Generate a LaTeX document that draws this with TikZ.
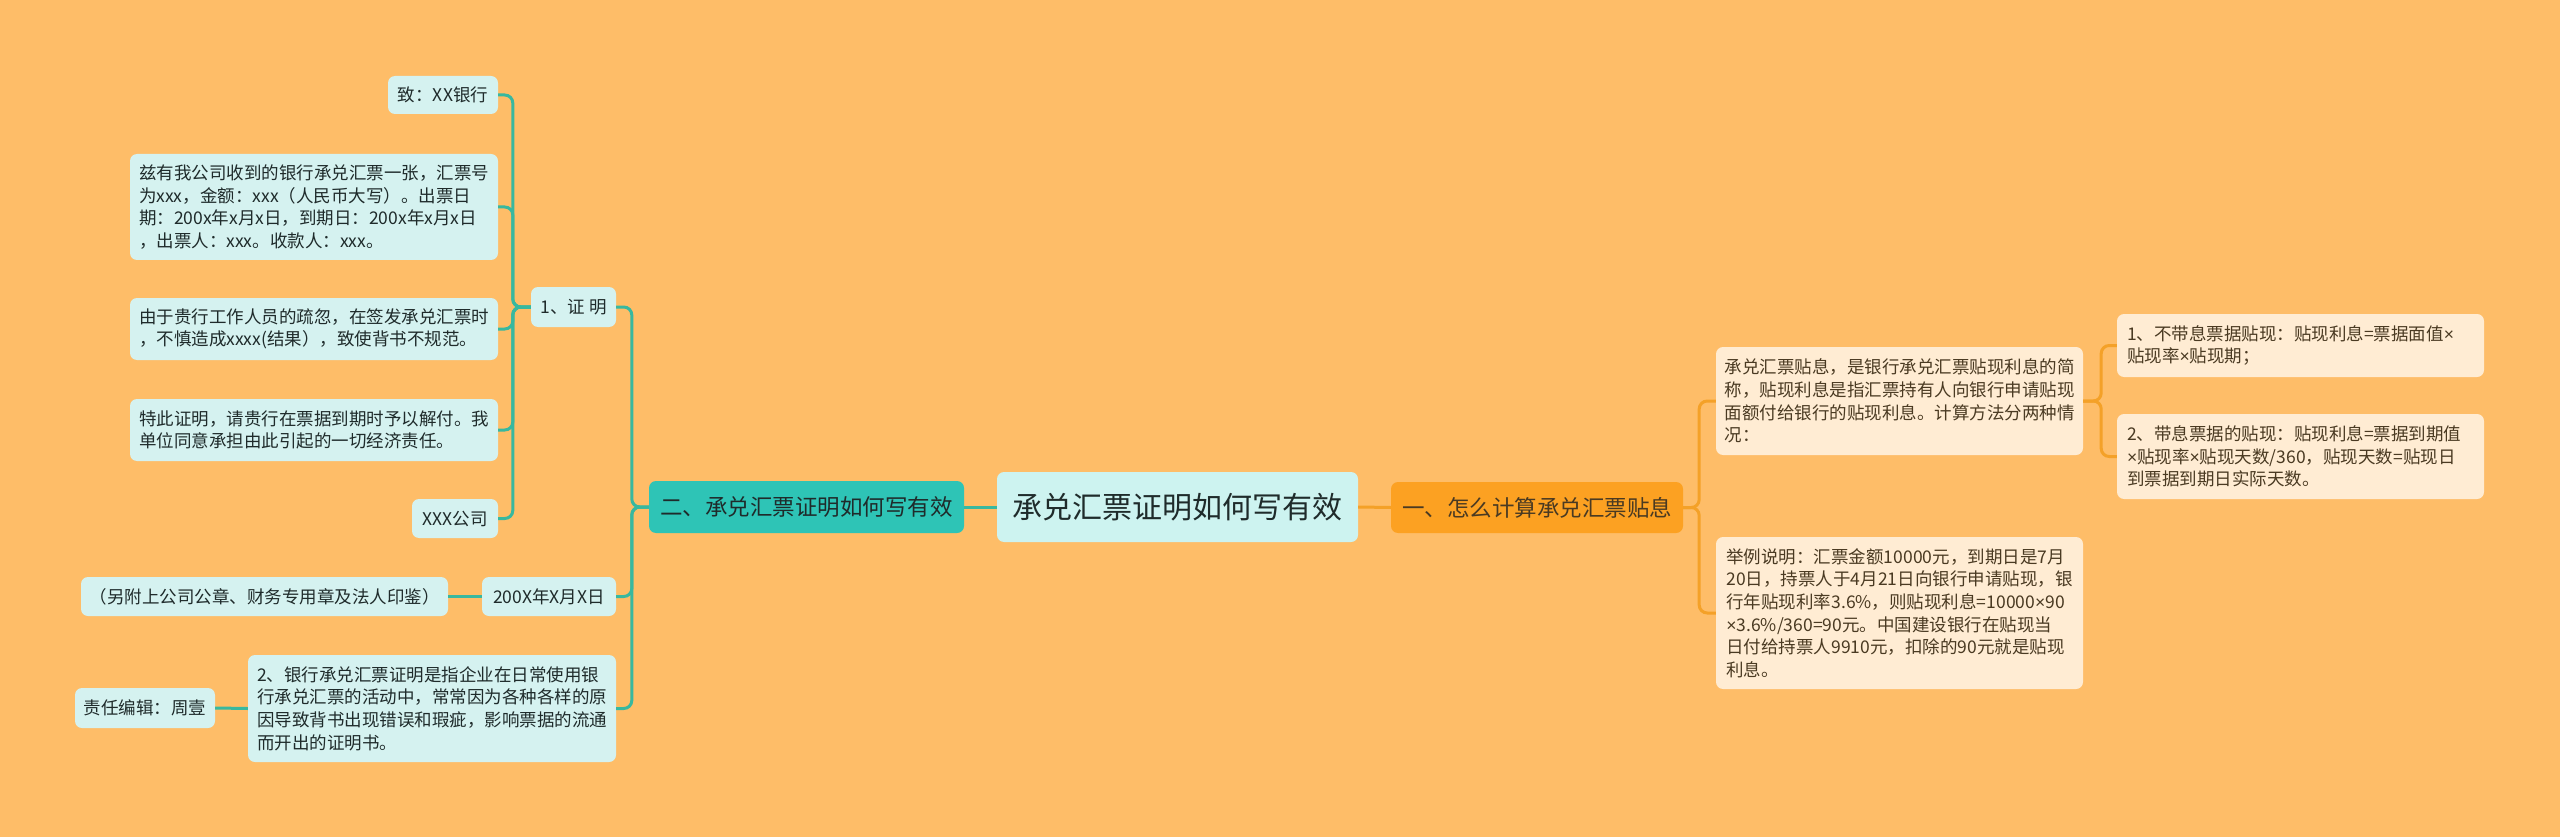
\documentclass[tikz,border=0pt]{standalone}
\usepackage{fontspec}
\setmainfont{Noto Sans CJK SC}
\newfontfamily\latf{Liberation Sans}
\newcommand\tms{{\latf ×}}
\definecolor{bgc}{HTML}{FEBD68}
\definecolor{tboxc}{HTML}{2EC4B6}
\definecolor{tleafc}{HTML}{D5F2F0}
\definecolor{tcenterc}{HTML}{CDF3F0}
\definecolor{tlinec}{HTML}{38B89F}
\definecolor{tdark}{HTML}{1F2B2B}
\definecolor{oboxc}{HTML}{FCA122}
\definecolor{oleafc}{HTML}{FFECD3}
\definecolor{olinec}{HTML}{F4A128}
\definecolor{odark}{HTML}{4A3A22}
\tikzset{
  box/.style={rectangle, rounded corners=7pt, inner sep=0pt, align=left,
    font=\fontsize{17.5}{22.6}\selectfont},
  tleaf/.style={box, fill=tleafc, text=tdark},
  oleaf/.style={box, fill=oleafc, text=odark},
  tline/.style={draw=tlinec, line width=3pt, rounded corners=8pt},
  oline/.style={draw=olinec, line width=3pt, rounded corners=8pt},
}
\begin{document}
\begin{tikzpicture}[x=1pt, y=-1pt]
\useasboundingbox (0,0) rectangle (2560,837);
\fill[bgc] (0,0) rectangle (2560,837);

% centre
\node[box, fill=tcenterc, text=tdark, minimum width=361, minimum height=70,
  font=\fontsize{30}{36}\selectfont] (center) at (1177.5,507) {承兑汇票证明如何写有效};

% left main branch
\node[box, fill=tboxc, text=tdark, minimum width=315, minimum height=52,
  font=\fontsize{22.5}{27}\selectfont] (er) at (806.5,507) {二、承兑汇票证明如何写有效};

\node[tleaf, minimum width=85, minimum height=40] (zm) at (573.5,307) {1、证 明};
\node[tleaf, minimum width=134, minimum height=39] (date) at (549,596.5) {200X年X月X日};
\node[tleaf, minimum width=368, minimum height=107] (yh) at (432,708.5) {2、银行承兑汇票证明是指企业在日常使用银\\行承兑汇票的活动中，常常因为各种各样的原\\因导致背书出现错误和瑕疵，影响票据的流通\\而开出的证明书。};

\node[tleaf, minimum width=110, minimum height=38] (zhi) at (443,95) {致：XX银行};
\node[tleaf, minimum width=368, minimum height=106] (ziyou) at (314,207) {兹有我公司收到的银行承兑汇票一张，汇票号\\为xxx，金额：xxx（人民币大写）。出票日\\期：200x年x月x日，到期日：200x年x月x日\\，出票人：xxx。收款人：xxx。};
\node[tleaf, minimum width=368, minimum height=62] (youyu) at (314,329) {由于贵行工作人员的疏忽，在签发承兑汇票时\\，不慎造成xxxx(结果），致使背书不规范。};
\node[tleaf, minimum width=368, minimum height=62] (teci) at (314,430) {特此证明，请贵行在票据到期时予以解付。我\\单位同意承担由此引起的一切经济责任。};
\node[tleaf, minimum width=86, minimum height=39] (xxx) at (455,518.5) {XXX公司};

\node[tleaf, minimum width=367, minimum height=39] (fu) at (264.5,596.5) {（另附上公司公章、财务专用章及法人印鉴）};
\node[tleaf, minimum width=140, minimum height=40] (zr) at (145,708) {责任编辑：周壹};

% right main branch
\node[box, fill=oboxc, text=odark, minimum width=292, minimum height=51,
  font=\fontsize{22.5}{27}\selectfont] (yi) at (1537,507.5) {一、怎么计算承兑汇票贴息};

\node[oleaf, minimum width=367, minimum height=108] (tx) at (1899.5,401) {承兑汇票贴息，是银行承兑汇票贴现利息的简\\称，贴现利息是指汇票持有人向银行申请贴现\\面额付给银行的贴现利息。计算方法分两种情\\况：};
\node[oleaf, minimum width=367, minimum height=152] (jl) at (1899.5,613) {举例说明：汇票金额10000元，到期日是7月\\20日，持票人于4月21日向银行申请贴现，银\\行年贴现利率3.6\%，则贴现利息=10000\tms{}90\\\tms{}3.6\%/360=90元。中国建设银行在贴现当\\日付给持票人9910元，扣除的90元就是贴现\\利息。};
\node[oleaf, minimum width=367, minimum height=63, text width=347] (b1) at (2300.5,345.5) {1、不带息票据贴现：贴现利息=票据面值\tms{}\\贴现率\tms{}贴现期；};
\node[oleaf, minimum width=367, minimum height=85, text width=347] (b2) at (2300.5,456.5) {2、带息票据的贴现：贴现利息=票据到期值\\\tms{}贴现率\tms{}贴现天数/360，贴现天数=贴现日\\到票据到期日实际天数。};

% connectors
\draw[tline] (center.west) -- (er.east);
\draw[oline] (center.east) -- (yi.west);

\draw[tline] (er.west) -- ++(-17,0) |- (zm.east);
\draw[tline] (er.west) -- ++(-17,0) |- (date.east);
\draw[tline] (er.west) -- ++(-17,0) |- (yh.east);

\draw[tline] (zm.west) -- ++(-18,0) |- (zhi.east);
\draw[tline] (zm.west) -- ++(-18,0) |- (ziyou.east);
\draw[tline] (zm.west) -- ++(-18,0) |- (youyu.east);
\draw[tline] (zm.west) -- ++(-18,0) |- (teci.east);
\draw[tline] (zm.west) -- ++(-18,0) |- (xxx.east);

\draw[tline] (date.west) -- (fu.east);
\draw[tline] (yh.west) -- (zr.east);

\draw[oline] (yi.east) -- ++(16,0) |- (tx.west);
\draw[oline] (yi.east) -- ++(16,0) |- (jl.west);

\draw[oline] (tx.east) -- ++(18,0) |- (b1.west);
\draw[oline] (tx.east) -- ++(18,0) |- (b2.west);
\end{tikzpicture}
\end{document}
